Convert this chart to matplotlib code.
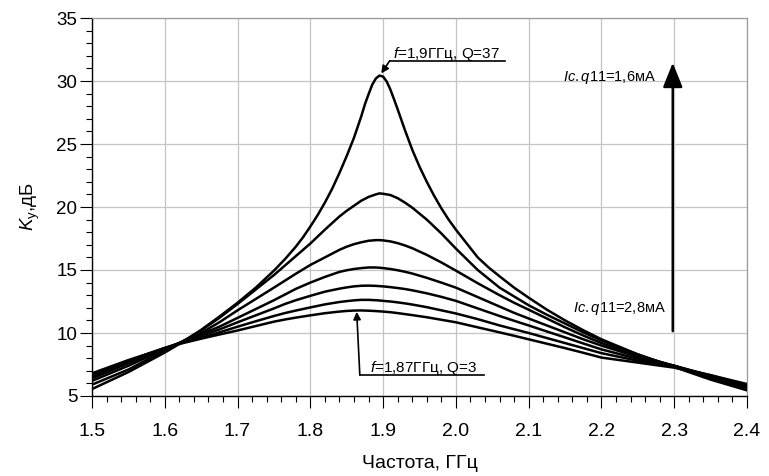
import matplotlib
matplotlib.use("Agg")
import matplotlib.pyplot as plt
from matplotlib.ticker import MultipleLocator

plt.rcParams['font.family'] = ['Liberation Sans', 'DejaVu Sans']
plt.rcParams['mathtext.fontset'] = 'custom'
plt.rcParams['mathtext.rm'] = 'Liberation Sans'
plt.rcParams['mathtext.it'] = 'Liberation Sans:italic'

# ---- data ----
# Q=37 curve (sharp resonance), sampled more densely
freq_q37 = [1.50, 1.55, 1.60, 1.625, 1.65, 1.675, 1.70, 1.725, 1.75, 1.765,
            1.78, 1.79, 1.80, 1.81, 1.82, 1.83, 1.84, 1.85, 1.86, 1.87,
            1.875, 1.88, 1.885, 1.89, 1.895, 1.90, 1.905, 1.91, 1.915, 1.92,
            1.93, 1.94, 1.95, 1.96, 1.97, 1.98, 1.99, 2.00, 2.015, 2.03,
            2.045, 2.06, 2.08, 2.10, 2.125, 2.15, 2.175, 2.20, 2.25, 2.30,
            2.35, 2.40]
k_q37 = [5.55, 6.9, 8.45, 9.3, 10.25, 11.3, 12.4, 13.6, 14.95, 15.85,
         16.85, 17.6, 18.45, 19.35, 20.35, 21.45, 22.7, 24.05, 25.5, 27.2,
         28.15, 28.95, 29.7, 30.2, 30.43, 30.35, 29.95, 29.32, 28.55, 27.75,
         26.1, 24.55, 23.2, 22.0, 20.9, 19.9, 19.0, 18.2, 17.1, 16.0,
         15.2, 14.5, 13.6, 12.8, 11.85, 11.0, 10.22, 9.5, 8.3, 7.3,
         6.3, 5.45]

# other curves (Ic.q11 rising towards 2,8 mA -> lower, broader peaks)
freq = [1.50, 1.55, 1.60, 1.625, 1.65, 1.675, 1.70, 1.725, 1.75, 1.765,
        1.78, 1.80, 1.82, 1.84, 1.85, 1.86, 1.87, 1.88, 1.89, 1.895,
        1.90, 1.91, 1.92, 1.93, 1.94, 1.96, 1.98, 2.00, 2.03, 2.06,
        2.08, 2.10, 2.125, 2.15, 2.175, 2.20, 2.25, 2.275, 2.30, 2.35,
        2.40]
k_2 = [5.9, 7.1, 8.6, 9.35, 10.2, 11.2, 12.3, 13.45, 14.6, 15.35,
       16.1, 17.1, 18.2, 19.25, 19.7, 20.1, 20.5, 20.8, 21.0, 21.08,
       21.05, 20.95, 20.7, 20.35, 19.95, 19.0, 17.9, 16.7, 15.0, 13.6,
       12.9, 12.2, 11.45, 10.75, 10.05, 9.4, 8.3, 7.8, 7.35, 6.4,
       5.5]
k_3 = [6.2, 7.4, 8.7, 9.35, 10.0, 10.85, 11.8, 12.7, 13.6, 14.15,
       14.7, 15.4, 16.0, 16.6, 16.85, 17.05, 17.2, 17.32, 17.37, 17.37,
       17.35, 17.27, 17.13, 16.95, 16.73, 16.2, 15.6, 14.95, 13.95, 13.0,
       12.4, 11.85, 11.15, 10.45, 9.8, 9.2, 8.2, 7.8, 7.4, 6.5,
       5.6]
k_4 = [6.4, 7.6, 8.75, 9.3, 9.9, 10.5, 11.2, 11.9, 12.6, 13.05,
       13.5, 14.0, 14.45, 14.85, 14.98, 15.08, 15.15, 15.2, 15.2, 15.18,
       15.15, 15.08, 14.98, 14.86, 14.72, 14.38, 14.0, 13.6, 12.85, 12.1,
       11.6, 11.15, 10.6, 10.05, 9.5, 9.0, 8.1, 7.75, 7.4, 6.55,
       5.7]
k_5 = [6.55, 7.7, 8.8, 9.3, 9.75, 10.28, 10.85, 11.4, 11.95, 12.3,
       12.6, 12.95, 13.28, 13.52, 13.62, 13.7, 13.75, 13.76, 13.74, 13.72,
       13.7, 13.64, 13.57, 13.49, 13.39, 13.15, 12.87, 12.55, 11.95, 11.35,
       10.97, 10.6, 10.12, 9.65, 9.17, 8.7, 7.95, 7.67, 7.4, 6.6,
       5.8]
k_6 = [6.7, 7.8, 8.82, 9.25, 9.6, 10.05, 10.5, 10.93, 11.35, 11.58,
       11.78, 12.03, 12.27, 12.46, 12.53, 12.59, 12.63, 12.63, 12.6, 12.58,
       12.55, 12.5, 12.43, 12.35, 12.26, 12.05, 11.8, 11.55, 11.1, 10.6,
       10.3, 10.0, 9.6, 9.2, 8.8, 8.4, 7.8, 7.57, 7.35, 6.65,
       5.85]
k_q3 = [6.8, 7.85, 8.8, 9.2, 9.55, 9.88, 10.2, 10.55, 10.9, 11.07,
        11.22, 11.4, 11.57, 11.7, 11.75, 11.78, 11.79, 11.77, 11.74, 11.72,
        11.7, 11.65, 11.58, 11.5, 11.42, 11.25, 11.05, 10.85, 10.45, 10.05,
        9.78, 9.5, 9.15, 8.8, 8.43, 8.05, 7.65, 7.45, 7.25, 6.65,
        5.95]

other_curves = [k_2, k_3, k_4, k_5, k_6, k_q3]

x_ticks = [1.5, 1.6, 1.7, 1.8, 1.9, 2.0, 2.1, 2.2, 2.3, 2.4]
x_ticklabels = ['1.5', '1.6', '1.7', '1.8', '1.9', '2.0', '2.1', '2.2', '2.3', '2.4']
y_ticks = [5, 10, 15, 20, 25, 30, 35]

# ---- figure ----
fig = plt.figure(figsize=(7.69, 4.76), dpi=100)
ax = fig.add_axes([92/769, 80/476, 655/769, 378/476])

line_kw = dict(color='black', lw=1.8, solid_joinstyle='round', solid_capstyle='round', zorder=3)
ax.plot(freq_q37, k_q37, **line_kw)
for c in other_curves:
    ax.plot(freq, c, **line_kw)

ax.set_xlim(1.5, 2.4)
ax.set_ylim(5, 35)
ax.set_xticks(x_ticks)
ax.set_xticklabels(x_ticklabels)
ax.set_yticks(y_ticks)
ax.xaxis.set_minor_locator(MultipleLocator(0.02))
ax.yaxis.set_minor_locator(MultipleLocator(1))
ax.tick_params(which='major', direction='out', length=8.5, width=0.8, labelsize=13.5, color='black')
ax.tick_params(which='minor', direction='out', length=4, width=0.8, color='black')
ax.tick_params(axis='x', which='major', pad=11, labelsize=14)
ax.tick_params(axis='y', which='major', pad=2)

ax.grid(True, which='major', color='#c4c4c4', lw=0.9, zorder=0)
for s in ('top', 'right'):
    ax.spines[s].set_color('#9a9a9a')
    ax.spines[s].set_linewidth(0.9)
for s in ('left', 'bottom'):
    ax.spines[s].set_color('black')
    ax.spines[s].set_linewidth(1.0)

ax.set_xlabel('Частота, ГГц', fontsize=14)
ax.xaxis.set_label_coords(0.5, -0.155)
ax.set_ylabel(r'$\mathit{K}_{\mathrm{у}}$,дБ', fontsize=13.5)
ax.yaxis.set_label_coords(-0.077, 0.5)

# ---- annotations ----
ann_fs = 11
# top: peak of Q=37 curve
ax.plot([2.067, 1.909], [31.6, 31.6], color='black', lw=1.2, zorder=4)
ax.annotate('', xy=(1.8975, 30.6), xytext=(1.909, 31.6),
            arrowprops=dict(arrowstyle='-|>', color='black', lw=1.2,
                            mutation_scale=11, shrinkA=0, shrinkB=0), zorder=4)
ax.text(1.913, 31.85, r'$\mathit{f}$=1,9ГГц, Q=37', fontsize=ann_fs, va='baseline', ha='left')

# bottom: peak of Q=3 curve
ax.plot([2.0385, 1.868], [6.67, 6.67], color='black', lw=1.2, zorder=4)
ax.annotate('', xy=(1.8637, 11.68), xytext=(1.868, 6.67),
            arrowprops=dict(arrowstyle='-|>', color='black', lw=1.2,
                            mutation_scale=11, shrinkA=0, shrinkB=0), zorder=4)
ax.text(1.882, 6.93, r'$\mathit{f}$=1,87ГГц, Q=3', fontsize=ann_fs, va='baseline', ha='left')

# current arrow
ax.annotate('', xy=(2.298, 31.45), xytext=(2.298, 10.15),
            arrowprops=dict(arrowstyle='-|>,head_length=0.75,head_width=0.3', color='black',
                            lw=1.8, mutation_scale=20, shrinkA=0, shrinkB=0), zorder=4)
ax.text(2.147, 30.02, r'$\mathit{Ic.q}$11=1,6мА', fontsize=10.5, va='baseline', ha='left')
ax.text(2.161, 11.69, r'$\mathit{Ic.q}$11=2,8мА', fontsize=10.5, va='baseline', ha='left')

fig.savefig('out.png', dpi=100)
